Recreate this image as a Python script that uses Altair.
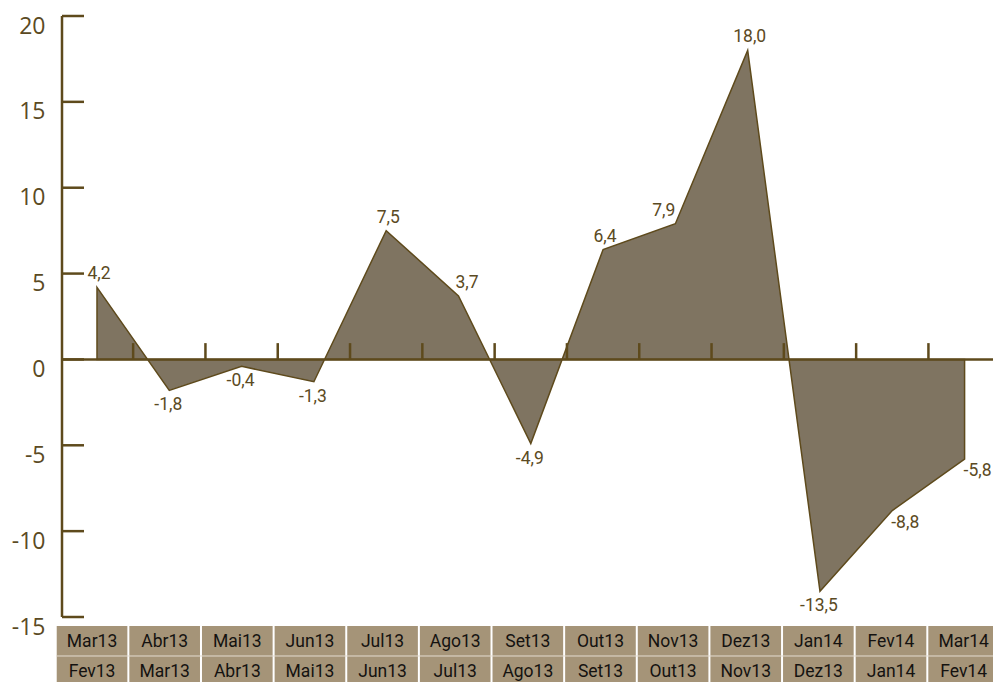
import altair as alt
import pandas as pd

# ---- data ----
periods = ["Mar13", "Abr13", "Mai13", "Jun13", "Jul13", "Ago13", "Set13",
           "Out13", "Nov13", "Dez13", "Jan14", "Fev14", "Mar14"]
previous = ["Fev13", "Mar13", "Abr13", "Mai13", "Jun13", "Jul13", "Ago13",
            "Set13", "Out13", "Nov13", "Dez13", "Jan14", "Fev14"]
changes = [4.2, -1.8, -0.4, -1.3, 7.5, 3.7, -4.9, 6.4, 7.9, 18.0, -13.5, -8.8, -5.8]
y_ticks = [-15, -10, -5, 0, 5, 10, 15, 20]

# ---- styling / layout constants ----
BROWN = "#5e4a1c"
FILL = "#7f7461"
TEXT = "#5b4a23"
BOX = "#a59478"
NARROW = "Roboto, Liberation Sans Narrow, sans-serif"

X0, X1 = -0.567, 12.393          # x domain in category-index units
Y0, Y1 = -18.785, 20.0           # y domain (extended below -15 for the label boxes)
BOX_TOP, BOX_MID = -15.52, -17.27
ROW1, ROW2 = -16.46, -18.2
BOX_STEP, BOX_W = 1.0046, 0.977

df = pd.DataFrame({"i": list(range(len(periods))), "value": changes,
                   "top": periods, "bottom": previous})
df["label"] = [f"{v:.1f}".replace(".", ",") for v in changes]
df["box_l"] = X0 + df["i"] * BOX_STEP + 0.01
df["box_r"] = df["box_l"] + BOX_W
df["box_c"] = (df["box_l"] + df["box_r"]) / 2

xs = alt.Scale(domain=[X0, X1], nice=False, zero=False)
ys = alt.Scale(domain=[Y0, Y1], nice=False, zero=False)

base = alt.Chart(df)

area = base.mark_area(fill=FILL, fillOpacity=1, stroke=BROWN, strokeWidth=1.5).encode(
    x=alt.X("i:Q", scale=xs, axis=None),
    y=alt.Y("value:Q", scale=ys, title=None,
            axis=alt.Axis(values=y_ticks, domain=False, ticks=False, tickSize=0, grid=False,
                          labelFont="Open Sans", labelFontSize=23, labelColor=TEXT,
                          labelPadding=11, labelOffset=10,
                          labelExpr="'' + datum.value")),
    y2=alt.datum(0),
)

yline = alt.Chart(pd.DataFrame({"a": [-15], "b": [20]})).mark_rule(
    color=BROWN, strokeWidth=2.5).encode(
    x=alt.value(6), y=alt.Y("a:Q", title=None), y2="b:Q")

yticks = alt.Chart(pd.DataFrame({"t": y_ticks})).mark_rule(
    color=BROWN, strokeWidth=2.5).encode(
    y=alt.Y("t:Q", title=None), x=alt.value(6), x2=alt.value(28))

xline = alt.Chart(pd.DataFrame({"z": [0]})).mark_rule(
    color=BROWN, strokeWidth=2.5).encode(
    y=alt.Y("z:Q", title=None), x=alt.value(6), x2=alt.value(937))

xticks = alt.Chart(pd.DataFrame({"m": [k + 0.5 for k in range(len(periods) - 1)],
                                 "z": 0, "h": 0.95})).mark_rule(
    color=BROWN, strokeWidth=2.5).encode(
    x=alt.X("m:Q", axis=None), y=alt.Y("z:Q", title=None), y2="h:Q")

boxes = base.mark_rect(color=BOX).encode(
    x=alt.X("box_l:Q", axis=None), x2="box_r:Q",
    y=alt.datum(BOX_TOP), y2=alt.datum(Y0))

sep = alt.Chart(pd.DataFrame({"s": [BOX_MID]})).mark_rule(
    color="#e4ddd1", strokeWidth=1).encode(
    y=alt.Y("s:Q", title=None), x=alt.value(0), x2=alt.value(937))

row1 = base.mark_text(font=NARROW, fontSize=17.5, color="#141210", baseline="middle").encode(
    x=alt.X("box_c:Q", axis=None), y=alt.datum(ROW1), text="top:N")
row2 = base.mark_text(font=NARROW, fontSize=17.5, color="#141210", baseline="middle").encode(
    x=alt.X("box_c:Q", axis=None), y=alt.datum(ROW2), text="bottom:N")


def lab(filter_expr, align, baseline, dy, dx=0):
    return base.transform_filter(filter_expr).mark_text(
        font=NARROW, fontSize=17.5, color=TEXT, align=align, baseline=baseline, dy=dy, dx=dx
    ).encode(x=alt.X("i:Q", axis=None), y=alt.Y("value:Q", title=None), text="label:N")


in_left = "indexof(['Ago13','Fev14','Mar14'], datum.top) >= 0"
in_right = "datum.top == 'Nov13'"
pos = "datum.value >= 0"
neg = "datum.value < 0"

labels = [
    lab(f"{pos} && !({in_left}) && !({in_right})", "center", "bottom", -4, 2),
    lab(f"{neg} && !({in_left}) && !({in_right})", "center", "top", 6, -1),
    lab(f"{pos} && ({in_left})", "left", "bottom", -4, -3),
    lab(f"{neg} && ({in_left})", "left", "top", 3, -1),
    lab(f"{pos} && ({in_right})", "right", "bottom", -4, 0),
]

chart = alt.layer(area, yline, yticks, xline, xticks, boxes, sep, row1, row2, *labels).properties(
    width=937, height=666,
    padding={"left": 56, "top": 16, "right": 0, "bottom": 0},
    autosize=alt.AutoSizeParams(type="none"),
    background="white",
).configure_view(stroke=None)

chart.save("out.html", embed_options={"renderer": "svg", "actions": False})
